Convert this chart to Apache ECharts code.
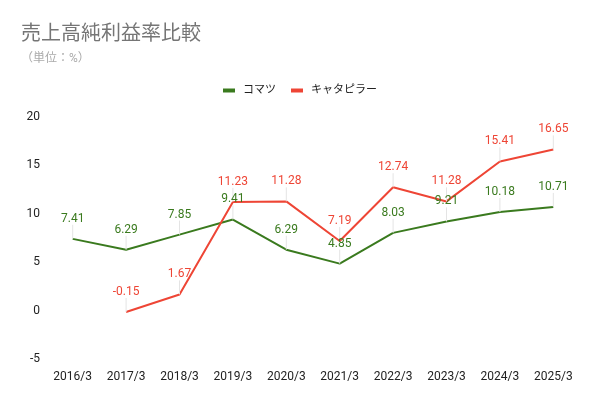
<!DOCTYPE html>
<html>
<head>
<meta charset="utf-8">
<script src="https://cdn.jsdelivr.net/npm/echarts@6/dist/echarts.min.js"></script>
<style>
    html, body { margin: 0; padding: 0; background: #fff; }
    #main { width: 600px; height: 397px; }
</style>
</head>
<body>
<div id="main"></div>
<script>
    var years = ['2016/3', '2017/3', '2018/3', '2019/3', '2020/3', '2021/3', '2022/3', '2023/3', '2024/3', '2025/3'];
    var komatsu = [7.41, 6.29, 7.85, 9.41, 6.29, 4.85, 8.03, 9.21, 10.18, 10.71];
    var caterpillar = [null, -0.15, 1.67, 11.23, 11.28, 7.19, 12.74, 11.28, 15.41, 16.65];
    var yTicks = [-5, 0, 5, 10, 15, 20];

    var green = '#3a7a1e';
    var red = '#ee4535';
    var font = 'Roboto, "Noto Sans CJK JP", sans-serif';

    function lineSeries(name, data, color) {
        return {
            name: name,
            type: 'line',
            data: data,
            symbol: 'circle',
            symbolSize: 0.1,
            showSymbol: true,
            connectNulls: false,
            lineStyle: {color: color, width: 2},
            itemStyle: {color: color},
            label: {
                show: true,
                position: 'top',
                distance: 2,
                color: color,
                fontSize: 12,
                fontFamily: font
            },
            labelLayout: {dy: -12},
            labelLine: {
                show: true,
                lineStyle: {color: '#e4e4e4', width: 1}
            }
        };
    }

    var myChart = echarts.init(document.getElementById('main'));
    var option = {
        animation: false,
        textStyle: {fontFamily: font},
        title: {
            text: '売上高純利益率比較',
            subtext: '（単位：%）',
            left: 16,
            top: 20,
            itemGap: 8,
            textStyle: {fontSize: 20, fontWeight: 'normal', color: '#757575'},
            subtextStyle: {fontSize: 12, color: '#aaa'}
        },
        legend: {
            top: 80,
            left: 'center',
            itemWidth: 12,
            itemHeight: 4,
            itemGap: 15,
            icon: 'rect',
            textStyle: {fontSize: 11, color: '#222', padding: [0, 0, 0, 3]},
            data: ['コマツ', 'キャタピラー']
        },
        grid: {left: 46, right: 20, top: 117, bottom: 38},
        xAxis: {
            type: 'category',
            data: years,
            boundaryGap: true,
            axisLine: {show: false},
            axisTick: {show: false},
            axisLabel: {color: '#222', fontSize: 12, margin: 12}
        },
        yAxis: {
            type: 'value',
            min: yTicks[0],
            max: yTicks[yTicks.length - 1],
            interval: 5,
            splitLine: {show: false},
            axisLine: {show: false},
            axisTick: {show: false},
            axisLabel: {color: '#222', fontSize: 12, margin: 6}
        },
        series: [
            lineSeries('コマツ', komatsu, green),
            lineSeries('キャタピラー', caterpillar, red)
        ]
    };
    myChart.setOption(option);
</script>
</body>
</html>
